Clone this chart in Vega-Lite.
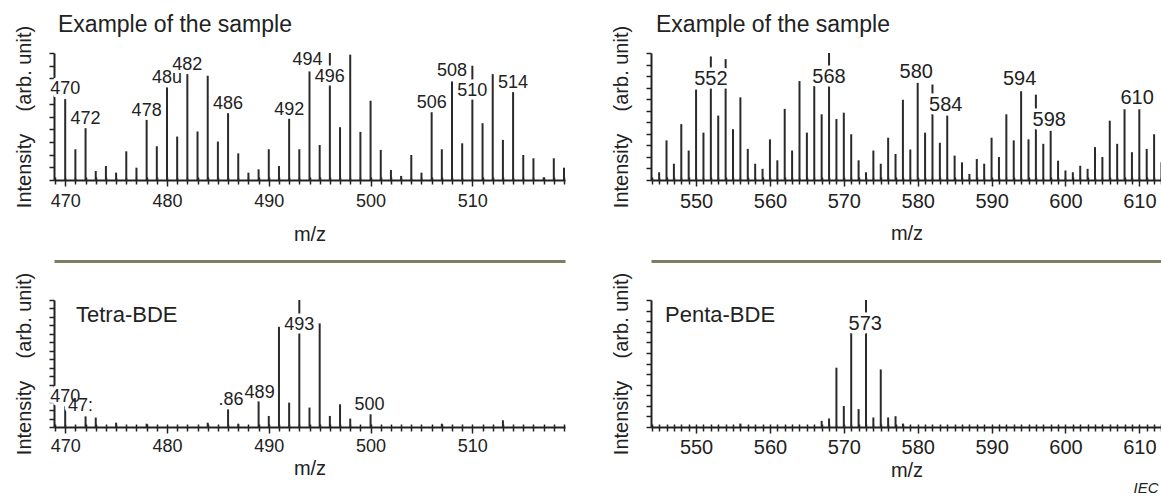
{
 "$schema": "https://vega.github.io/schema/vega-lite/v6.json",
 "background": "white",
 "padding": {"left": 14, "top": 14, "right": 0, "bottom": 3},
 "config": {
  "font": "Liberation Sans",
  "view": {"stroke": null},
  "axis": {"grid": false, "domainColor": "#222", "tickColor": "#222", "labelColor": "#222", "titleColor": "#222", "titleFontWeight": "normal", "labelFont": "Liberation Sans", "titleFont": "Liberation Sans"},
  "title": {"fontWeight": "normal", "color": "#222", "font": "Liberation Sans"},
  "text": {"font": "Liberation Sans"}
 },
 "title": {"text": "IEC", "orient": "bottom", "anchor": "end", "frame": "bounds", "fontSize": 15, "fontStyle": "italic", "baseline": "alphabetic", "offset": 13, "dx": -4},
 "datasets": {
  "p1": [{"mz":470,"i":63.7},{"mz":471,"i":24.2},{"mz":472,"i":40.8},{"mz":473,"i":7.1},{"mz":474,"i":11},{"mz":475,"i":5.8},{"mz":476,"i":22.6},{"mz":477,"i":9.7},{"mz":478,"i":47.4},{"mz":479,"i":26.6},{"mz":480,"i":72.9},{"mz":481,"i":34.2},{"mz":482,"i":83.4},{"mz":483,"i":38.2},{"mz":484,"i":82.1},{"mz":485,"i":30.3},{"mz":486,"i":52.6},{"mz":487,"i":21},{"mz":488,"i":5.8},{"mz":489,"i":8.4},{"mz":490,"i":24.2},{"mz":491,"i":11},{"mz":492,"i":48.4},{"mz":493,"i":24.2},{"mz":494,"i":85.5},{"mz":495,"i":27.6},{"mz":496,"i":100},{"mz":497,"i":41.6},{"mz":498,"i":98.7},{"mz":499,"i":37.9},{"mz":500,"i":62.4},{"mz":501,"i":23.7},{"mz":502,"i":7.9},{"mz":503,"i":3.2},{"mz":504,"i":19.7},{"mz":505,"i":5.8},{"mz":506,"i":53.4},{"mz":507,"i":24.2},{"mz":508,"i":77.6},{"mz":509,"i":28.9},{"mz":510,"i":90},{"mz":511,"i":44.7},{"mz":512,"i":83.4},{"mz":513,"i":31.6},{"mz":514,"i":69.2},{"mz":515,"i":19.7},{"mz":516,"i":17.1},{"mz":517,"i":2.1},{"mz":518,"i":17.1},{"mz":519,"i":9.7}],
  "p1lab": [{"mz":470,"ly":67.6,"label":"470"},{"mz":472,"ly":44.2,"label":"472"},{"mz":478,"ly":50.5,"label":"478"},{"mz":480,"ly":76.3,"label":"48u"},{"mz":482,"ly":86.8,"label":"482"},{"mz":486,"ly":56,"label":"486"},{"mz":492,"ly":51.3,"label":"492"},{"mz":493.8,"ly":90.8,"label":"494"},{"mz":496,"ly":76.8,"label":"496"},{"mz":506,"ly":56.6,"label":"506"},{"mz":508,"ly":82.1,"label":"508"},{"mz":510,"ly":66.3,"label":"510"},{"mz":514,"ly":72.4,"label":"514"}],
  "p2": [{"mz":545,"i":6.1},{"mz":546,"i":31.2},{"mz":547,"i":12.8},{"mz":548,"i":44},{"mz":549,"i":23.2},{"mz":550,"i":71.2},{"mz":551,"i":37.3},{"mz":552,"i":97.3},{"mz":553,"i":50.7},{"mz":554,"i":95.2},{"mz":555,"i":40},{"mz":556,"i":65.1},{"mz":557,"i":24.5},{"mz":558,"i":12.8},{"mz":559,"i":8.8},{"mz":560,"i":32},{"mz":561,"i":15.5},{"mz":562,"i":56},{"mz":563,"i":23.2},{"mz":564,"i":77.9},{"mz":565,"i":37.3},{"mz":566,"i":73.9},{"mz":567,"i":51.7},{"mz":568,"i":100},{"mz":569,"i":48},{"mz":570,"i":53},{"mz":571,"i":36},{"mz":572,"i":15.5},{"mz":573,"i":6.1},{"mz":574,"i":23.2},{"mz":575,"i":12.8},{"mz":576,"i":33.3},{"mz":577,"i":20.5},{"mz":578,"i":63.2},{"mz":579,"i":24},{"mz":580,"i":76.5},{"mz":581,"i":37.3},{"mz":582,"i":75.2},{"mz":583,"i":29.3},{"mz":584,"i":50.7},{"mz":585,"i":19.2},{"mz":586,"i":13.9},{"mz":587,"i":4.8},{"mz":588,"i":16.5},{"mz":589,"i":12.8},{"mz":590,"i":33.3},{"mz":591,"i":18.1},{"mz":592,"i":51.7},{"mz":593,"i":31.2},{"mz":594,"i":69.9},{"mz":595,"i":32},{"mz":596,"i":67.2},{"mz":597,"i":28.5},{"mz":598,"i":38.7},{"mz":599,"i":15.2},{"mz":600,"i":7.5},{"mz":601,"i":6.1},{"mz":602,"i":11.2},{"mz":603,"i":8.8},{"mz":604,"i":25.9},{"mz":605,"i":18.1},{"mz":606,"i":46.7},{"mz":607,"i":28.5},{"mz":608,"i":55.7},{"mz":609,"i":21.9},{"mz":610,"i":55.7},{"mz":611,"i":24.5},{"mz":612,"i":36},{"mz":613,"i":13.9}],
  "p2lab": [{"mz":552,"ly":74.7,"label":"552"},{"mz":568,"ly":76.5,"label":"568"},{"mz":579.8,"ly":80.5,"label":"580"},{"mz":583.8,"ly":54.7,"label":"584"},{"mz":593.8,"ly":74.7,"label":"594"},{"mz":597.8,"ly":42.7,"label":"598"},{"mz":609.7,"ly":60,"label":"610"}],
  "p3": [{"mz":470,"i":16.3},{"mz":472,"i":8.4},{"mz":473,"i":7.4},{"mz":475,"i":3.4},{"mz":478,"i":2.6},{"mz":484,"i":3.4},{"mz":486,"i":13.9},{"mz":487,"i":2.6},{"mz":489,"i":20.5},{"mz":490,"i":8.7},{"mz":491,"i":78.9},{"mz":492,"i":19.2},{"mz":493,"i":100},{"mz":494,"i":15.3},{"mz":495,"i":81.6},{"mz":496,"i":8.7},{"mz":497,"i":17.9},{"mz":498,"i":6.6},{"mz":500,"i":10},{"mz":507,"i":2.6},{"mz":513,"i":5.3}],
  "p3lab": [{"mz":470,"ly":19.7,"label":"470"},{"mz":471.5,"ly":12.6,"label":"47:"},{"mz":486.3,"ly":17.1,"label":".86"},{"mz":489.1,"ly":23.2,"label":"489"},{"mz":493,"ly":76.5,"label":"493"},{"mz":499.9,"ly":13.7,"label":"500"}],
  "p4": [{"mz":556,"i":2.7},{"mz":567,"i":4.8},{"mz":568,"i":6.7},{"mz":569,"i":46.7},{"mz":570,"i":16.5},{"mz":571,"i":73.9},{"mz":572,"i":14.1},{"mz":573,"i":100},{"mz":574,"i":7.5},{"mz":575,"i":45.3},{"mz":576,"i":7.5},{"mz":577,"i":8.5},{"mz":578,"i":2.7}],
  "p4lab": [{"mz":572.9,"ly":76,"label":"573"}]
 },
 "columns": 2,
 "spacing": {"row": 120, "column": 86},
 "bounds": "flush",
 "concat": [
    {
     "width": 511, "height": 127,
     "title": {"text": "Example of the sample", "anchor": "start", "frame": "group", "baseline": "alphabetic", "offset": -30, "dx": 4, "fontSize": 23},
     "layer": [
      {"data": {"name": "p1"},
       "mark": {"type": "rule", "color": "#2a2a2a", "strokeWidth": 2},
       "encoding": {
        "x": {"field": "mz", "type": "quantitative", "scale": {"domain": [468.9, 519.1], "nice": false, "zero": false},
         "axis": {"orient": "bottom", "title": "m/z", "titleFontSize": 20, "titlePadding": 14, "values": [469,470,471,472,473,474,475,476,477,478,479,480,481,482,483,484,485,486,487,488,489,490,491,492,493,494,495,496,497,498,499,500,501,502,503,504,505,506,507,508,509,510,511,512,513,514,515,516,517,518,519], "labelExpr": "datum.value % 10 === 0 ? datum.label : ''", "labelFontSize": 18, "labelPadding": 6, "labelOverlap": false, "labelFlush": false, "labelBound": false, "tickSize": {"condition": {"test": "datum.value % 10 === 0", "value": 6}, "value": 4}, "tickWidth": 1.5, "domainWidth": 2}},
        "y": {"field": "i", "type": "quantitative", "scale": {"domain": [0, 100], "nice": false},
         "axis": {"title": "Intensity\u00a0\u00a0\u00a0\u00a0(arb. unit)", "titleFontSize": 20, "titlePadding": 14, "labels": false, "values": [0,10,20,30,40,50,60,70,80,90,100], "tickSize": 5, "tickWidth": 1.5, "domainWidth": 2}},
        "y2": {"datum": 0}
       }},
      {"data": {"name": "p1lab"},
       "mark": {"type": "text", "fontSize": 18, "baseline": "alphabetic", "fill": "white", "stroke": "white", "strokeWidth": 7, "strokeJoin": "round"},
       "encoding": {
        "x": {"field": "mz", "type": "quantitative", "scale": {"domain": [468.9, 519.1], "nice": false, "zero": false},
         "axis": {"orient": "bottom", "offset": 81, "domainColor": "#7d7d66", "domainWidth": 3, "ticks": false, "labels": false, "title": null}},
        "y": {"field": "ly", "type": "quantitative", "scale": {"domain": [0, 100], "nice": false},
         "axis": {"title": "Intensity\u00a0\u00a0\u00a0\u00a0(arb. unit)", "titleFontSize": 20, "titlePadding": 14, "labels": false, "values": [0,10,20,30,40,50,60,70,80,90,100], "tickSize": 5, "tickWidth": 1.5, "domainWidth": 2}},
        "text": {"field": "label"}
       }},
      {"data": {"name": "p1lab"},
       "mark": {"type": "text", "fontSize": 18, "baseline": "alphabetic", "color": "#222"},
       "encoding": {
        "x": {"field": "mz", "type": "quantitative", "scale": {"domain": [468.9, 519.1], "nice": false, "zero": false},
         "axis": {"orient": "bottom", "offset": -3, "domain": false, "labels": false, "title": null, "values": [469,470,471,472,473,474,475,476,477,478,479,480,481,482,483,484,485,486,487,488,489,490,491,492,493,494,495,496,497,498,499,500,501,502,503,504,505,506,507,508,509,510,511,512,513,514,515,516,517,518,519], "tickSize": 3, "tickWidth": 1.5}},
        "y": {"field": "ly", "type": "quantitative", "scale": {"domain": [0, 100], "nice": false},
         "axis": {"title": "Intensity\u00a0\u00a0\u00a0\u00a0(arb. unit)", "titleFontSize": 20, "titlePadding": 14, "labels": false, "values": [0,10,20,30,40,50,60,70,80,90,100], "tickSize": 5, "tickWidth": 1.5, "domainWidth": 2}},
        "text": {"field": "label"}
       }}
     ],
     "resolve": {"axis": {"x": "independent"}}
    },
    {
     "width": 511, "height": 127,
     "title": {"text": "Example of the sample", "anchor": "start", "frame": "group", "baseline": "alphabetic", "offset": -30, "dx": 5, "fontSize": 23},
     "layer": [
      {"data": {"name": "p2"},
       "mark": {"type": "rule", "color": "#2a2a2a", "strokeWidth": 2},
       "encoding": {
        "x": {"field": "mz", "type": "quantitative", "scale": {"domain": [543.9, 613.07], "nice": false, "zero": false},
         "axis": {"orient": "bottom", "title": "m/z", "titleFontSize": 20, "titlePadding": 12, "values": [544,545,546,547,548,549,550,551,552,553,554,555,556,557,558,559,560,561,562,563,564,565,566,567,568,569,570,571,572,573,574,575,576,577,578,579,580,581,582,583,584,585,586,587,588,589,590,591,592,593,594,595,596,597,598,599,600,601,602,603,604,605,606,607,608,609,610,611,612,613], "labelExpr": "datum.value % 10 === 0 ? datum.label : ''", "labelFontSize": 20, "labelPadding": 5, "labelOverlap": false, "labelFlush": false, "labelBound": false, "tickSize": {"condition": {"test": "datum.value % 10 === 0", "value": 6}, "value": 4}, "tickWidth": 1.5, "domainWidth": 2}},
        "y": {"field": "i", "type": "quantitative", "scale": {"domain": [0, 100], "nice": false},
         "axis": {"title": "Intensity\u00a0\u00a0\u00a0\u00a0(arb. unit)", "titleFontSize": 20, "titlePadding": 14, "labels": false, "values": [0,9.09,18.18,27.27,36.36,45.45,54.55,63.64,72.73,81.82,90.91,100], "tickSize": 5, "tickWidth": 1.5, "domainWidth": 2}},
        "y2": {"datum": 0}
       }},
      {"data": {"name": "p2lab"},
       "mark": {"type": "text", "fontSize": 20, "baseline": "alphabetic", "fill": "white", "stroke": "white", "strokeWidth": 7, "strokeJoin": "round"},
       "encoding": {
        "x": {"field": "mz", "type": "quantitative", "scale": {"domain": [543.9, 613.07], "nice": false, "zero": false},
         "axis": {"orient": "bottom", "offset": 81, "domainColor": "#7d7d66", "domainWidth": 3, "ticks": false, "labels": false, "title": null}},
        "y": {"field": "ly", "type": "quantitative", "scale": {"domain": [0, 100], "nice": false},
         "axis": {"title": "Intensity\u00a0\u00a0\u00a0\u00a0(arb. unit)", "titleFontSize": 20, "titlePadding": 14, "labels": false, "values": [0,9.09,18.18,27.27,36.36,45.45,54.55,63.64,72.73,81.82,90.91,100], "tickSize": 5, "tickWidth": 1.5, "domainWidth": 2}},
        "text": {"field": "label"}
       }},
      {"data": {"name": "p2lab"},
       "mark": {"type": "text", "fontSize": 20, "baseline": "alphabetic", "color": "#222"},
       "encoding": {
        "x": {"field": "mz", "type": "quantitative", "scale": {"domain": [543.9, 613.07], "nice": false, "zero": false},
         "axis": {"orient": "bottom", "offset": -3, "domain": false, "labels": false, "title": null, "values": [544,545,546,547,548,549,550,551,552,553,554,555,556,557,558,559,560,561,562,563,564,565,566,567,568,569,570,571,572,573,574,575,576,577,578,579,580,581,582,583,584,585,586,587,588,589,590,591,592,593,594,595,596,597,598,599,600,601,602,603,604,605,606,607,608,609,610,611,612,613], "tickSize": 3, "tickWidth": 1.5}},
        "y": {"field": "ly", "type": "quantitative", "scale": {"domain": [0, 100], "nice": false},
         "axis": {"title": "Intensity\u00a0\u00a0\u00a0\u00a0(arb. unit)", "titleFontSize": 20, "titlePadding": 14, "labels": false, "values": [0,9.09,18.18,27.27,36.36,45.45,54.55,63.64,72.73,81.82,90.91,100], "tickSize": 5, "tickWidth": 1.5, "domainWidth": 2}},
        "text": {"field": "label"}
       }}
     ],
     "resolve": {"axis": {"x": "independent"}}
    },
    {
     "width": 511, "height": 127,
     "title": {"text": "Tetra-BDE", "anchor": "start", "frame": "group", "baseline": "alphabetic", "offset": -72, "dx": 22, "fontSize": 22},
     "layer": [
      {"data": {"name": "p3"},
       "mark": {"type": "rule", "color": "#2a2a2a", "strokeWidth": 2},
       "encoding": {
        "x": {"field": "mz", "type": "quantitative", "scale": {"domain": [468.9, 519.1], "nice": false, "zero": false},
         "axis": {"orient": "bottom", "title": "m/z", "titleFontSize": 20, "titlePadding": 3, "values": [469,470,471,472,473,474,475,476,477,478,479,480,481,482,483,484,485,486,487,488,489,490,491,492,493,494,495,496,497,498,499,500,501,502,503,504,505,506,507,508,509,510,511,512,513,514,515,516,517,518,519], "labelExpr": "datum.value % 10 === 0 ? datum.label : ''", "labelFontSize": 18, "labelPadding": 4, "labelOverlap": false, "labelFlush": false, "labelBound": false, "tickSize": {"condition": {"test": "datum.value % 10 === 0", "value": 6}, "value": 4}, "tickWidth": 1.5, "domainWidth": 2}},
        "y": {"field": "i", "type": "quantitative", "scale": {"domain": [0, 100], "nice": false},
         "axis": {"title": "Intensity\u00a0\u00a0\u00a0\u00a0(arb. unit)", "titleFontSize": 20, "titlePadding": 14, "labels": false, "values": [0,6.67,13.33,20,26.67,33.33,40,46.67,53.33,60,66.67,73.33,80,86.67,93.33,100], "tickSize": 5, "tickWidth": 1.5, "domainWidth": 2}},
        "y2": {"datum": 0}
       }},
      {"data": {"name": "p3lab"},
       "mark": {"type": "text", "fontSize": 18, "baseline": "alphabetic", "fill": "white", "stroke": "white", "strokeWidth": 7, "strokeJoin": "round"},
       "encoding": {
        "x": {"field": "mz", "type": "quantitative", "scale": {"domain": [468.9, 519.1], "nice": false, "zero": false},
         "axis": {"orient": "bottom", "offset": -3, "domain": false, "labels": false, "title": null, "values": [469,470,471,472,473,474,475,476,477,478,479,480,481,482,483,484,485,486,487,488,489,490,491,492,493,494,495,496,497,498,499,500,501,502,503,504,505,506,507,508,509,510,511,512,513,514,515,516,517,518,519], "tickSize": 3, "tickWidth": 1.5}},
        "y": {"field": "ly", "type": "quantitative", "scale": {"domain": [0, 100], "nice": false},
         "axis": {"title": "Intensity\u00a0\u00a0\u00a0\u00a0(arb. unit)", "titleFontSize": 20, "titlePadding": 14, "labels": false, "values": [0,6.67,13.33,20,26.67,33.33,40,46.67,53.33,60,66.67,73.33,80,86.67,93.33,100], "tickSize": 5, "tickWidth": 1.5, "domainWidth": 2}},
        "text": {"field": "label"}
       }},
      {"data": {"name": "p3lab"},
       "mark": {"type": "text", "fontSize": 18, "baseline": "alphabetic", "color": "#222"},
       "encoding": {
        "x": {"field": "mz", "type": "quantitative", "scale": {"domain": [468.9, 519.1], "nice": false, "zero": false}, "axis": null},
        "y": {"field": "ly", "type": "quantitative", "scale": {"domain": [0, 100], "nice": false},
         "axis": {"title": "Intensity\u00a0\u00a0\u00a0\u00a0(arb. unit)", "titleFontSize": 20, "titlePadding": 14, "labels": false, "values": [0,6.67,13.33,20,26.67,33.33,40,46.67,53.33,60,66.67,73.33,80,86.67,93.33,100], "tickSize": 5, "tickWidth": 1.5, "domainWidth": 2}},
        "text": {"field": "label"}
       }}
     ],
     "resolve": {"axis": {"x": "independent"}}
    },
    {
     "width": 511, "height": 127,
     "title": {"text": "Penta-BDE", "anchor": "start", "frame": "group", "baseline": "alphabetic", "offset": -72, "dx": 14, "fontSize": 22},
     "layer": [
      {"data": {"name": "p4"},
       "mark": {"type": "rule", "color": "#2a2a2a", "strokeWidth": 2},
       "encoding": {
        "x": {"field": "mz", "type": "quantitative", "scale": {"domain": [543.9, 613.07], "nice": false, "zero": false},
         "axis": {"orient": "bottom", "title": "m/z", "titleFontSize": 20, "titlePadding": 3, "values": [544,545,546,547,548,549,550,551,552,553,554,555,556,557,558,559,560,561,562,563,564,565,566,567,568,569,570,571,572,573,574,575,576,577,578,579,580,581,582,583,584,585,586,587,588,589,590,591,592,593,594,595,596,597,598,599,600,601,602,603,604,605,606,607,608,609,610,611,612,613], "labelExpr": "datum.value % 10 === 0 ? datum.label : ''", "labelFontSize": 20, "labelPadding": 4, "labelOverlap": false, "labelFlush": false, "labelBound": false, "tickSize": {"condition": {"test": "datum.value % 10 === 0", "value": 6}, "value": 4}, "tickWidth": 1.5, "domainWidth": 2}},
        "y": {"field": "i", "type": "quantitative", "scale": {"domain": [0, 100], "nice": false},
         "axis": {"title": "Intensity\u00a0\u00a0\u00a0\u00a0(arb. unit)", "titleFontSize": 20, "titlePadding": 14, "labels": false, "values": [0,8.33,16.67,25,33.33,41.67,50,58.33,66.67,75,83.33,91.67,100], "tickSize": 5, "tickWidth": 1.5, "domainWidth": 2}},
        "y2": {"datum": 0}
       }},
      {"data": {"name": "p4lab"},
       "mark": {"type": "text", "fontSize": 20, "baseline": "alphabetic", "fill": "white", "stroke": "white", "strokeWidth": 7, "strokeJoin": "round"},
       "encoding": {
        "x": {"field": "mz", "type": "quantitative", "scale": {"domain": [543.9, 613.07], "nice": false, "zero": false},
         "axis": {"orient": "bottom", "offset": -3, "domain": false, "labels": false, "title": null, "values": [544,545,546,547,548,549,550,551,552,553,554,555,556,557,558,559,560,561,562,563,564,565,566,567,568,569,570,571,572,573,574,575,576,577,578,579,580,581,582,583,584,585,586,587,588,589,590,591,592,593,594,595,596,597,598,599,600,601,602,603,604,605,606,607,608,609,610,611,612,613], "tickSize": 3, "tickWidth": 1.5}},
        "y": {"field": "ly", "type": "quantitative", "scale": {"domain": [0, 100], "nice": false},
         "axis": {"title": "Intensity\u00a0\u00a0\u00a0\u00a0(arb. unit)", "titleFontSize": 20, "titlePadding": 14, "labels": false, "values": [0,8.33,16.67,25,33.33,41.67,50,58.33,66.67,75,83.33,91.67,100], "tickSize": 5, "tickWidth": 1.5, "domainWidth": 2}},
        "text": {"field": "label"}
       }},
      {"data": {"name": "p4lab"},
       "mark": {"type": "text", "fontSize": 20, "baseline": "alphabetic", "color": "#222"},
       "encoding": {
        "x": {"field": "mz", "type": "quantitative", "scale": {"domain": [543.9, 613.07], "nice": false, "zero": false}, "axis": null},
        "y": {"field": "ly", "type": "quantitative", "scale": {"domain": [0, 100], "nice": false},
         "axis": {"title": "Intensity\u00a0\u00a0\u00a0\u00a0(arb. unit)", "titleFontSize": 20, "titlePadding": 14, "labels": false, "values": [0,8.33,16.67,25,33.33,41.67,50,58.33,66.67,75,83.33,91.67,100], "tickSize": 5, "tickWidth": 1.5, "domainWidth": 2}},
        "text": {"field": "label"}
       }}
     ],
     "resolve": {"axis": {"x": "independent"}}
    }
 ]
}
